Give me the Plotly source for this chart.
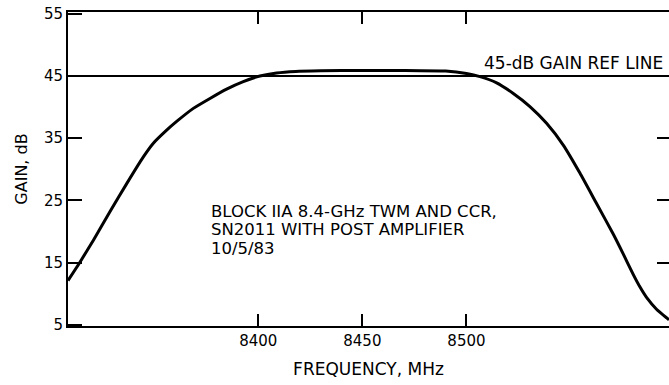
import plotly.graph_objects as go

# Data
freq_mhz = [8308.6, 8314.4, 8320.8, 8328.8, 8336.8, 8344.8, 8349.6, 8356.0, 8360.8,
            8368.8, 8376.8, 8384.8, 8392.8, 8400.8, 8408.8, 8418, 8430, 8450, 8470,
            8490, 8500, 8506.5, 8514.5, 8522.5, 8530.5, 8538.5, 8546.5, 8554.5,
            8562.5, 8570.5, 8575.3, 8580.1, 8583.3, 8586.5, 8591.3, 8596.2, 8597.3]
gain_db = [12.1, 15.1, 18.6, 23.2, 27.7, 32.0, 34.2, 36.3, 37.7,
           39.8, 41.4, 42.9, 44.1, 45.0, 45.5, 45.75, 45.85, 45.9, 45.9,
           45.8, 45.4, 44.9, 43.9, 42.2, 40.1, 37.4, 33.9, 29.4,
           24.5, 19.6, 16.4, 13.1, 11.1, 9.4, 7.5, 6.1, 5.8]
x_ticks = [8400, 8450, 8500]
y_ticks = [5, 15, 25, 35, 45, 55]
y_ticks_right = [15, 25, 35]
ref_gain = 45
ref_label = "45-dB GAIN REF LINE"
note_lines = ["BLOCK IIA 8.4-GHz TWM AND CCR,", "SN2011 WITH POST AMPLIFIER", "10/5/83"]

FONT = "DejaVu Sans, Verdana, sans-serif"

fig = go.Figure()
fig.add_trace(go.Scatter(x=freq_mhz, y=gain_db, mode="lines",
                         line=dict(color="black", width=3, shape="spline", smoothing=0.5),
                         hoverinfo="skip", showlegend=False))
fig.add_trace(go.Scatter(x=[], y=[], yaxis="y2", showlegend=False))

fig.add_shape(type="line", xref="paper", x0=0, x1=1, yref="y", y0=ref_gain, y1=ref_gain,
              line=dict(color="black", width=2))

fig.add_annotation(text=ref_label, xref="paper", x=(665 - 68) / 601, xanchor="right",
                   yref="y", y=ref_gain, yanchor="bottom", yshift=1, showarrow=False,
                   font=dict(size=17, color="black", family=FONT))

note_top_px = 211.0
note_step_px = 18.7
for i, line in enumerate(note_lines):
    cy = note_top_px + i * note_step_px
    fig.add_annotation(text=line, xref="paper", x=(209 - 68) / 601,
                       xanchor="left", align="left", yref="paper", y=(326 - cy) / 314,
                       yanchor="middle", showarrow=False,
                       font=dict(size=16.5, color="black", family=FONT))

fig.update_layout(
    width=669, height=385,
    margin=dict(l=68, r=0, t=12, b=59),
    plot_bgcolor="white", paper_bgcolor="white",
    font=dict(family=FONT, size=15, color="black"),
    xaxis=dict(range=[8308.6, 8597.3], tickvals=x_ticks, ticks="inside", ticklen=12,
               tickwidth=2, tickcolor="black", showline=True, linecolor="black",
               linewidth=2, mirror="ticks", showgrid=False, zeroline=False,
               title=dict(text="FREQUENCY, MHz", standoff=14, font=dict(size=17)),
               tickfont=dict(size=15)),
    yaxis=dict(range=[4.8, 55.3], tickvals=y_ticks, ticks="inside", ticklen=14,
               tickwidth=2, tickcolor="black", showline=True, linecolor="black",
               linewidth=2, showgrid=False, zeroline=False,
               title=dict(text="GAIN, dB", standoff=12, font=dict(size=16)),
               tickfont=dict(size=15)),
    yaxis2=dict(range=[4.8, 55.3], overlaying="y", side="right", tickvals=y_ticks_right,
                ticks="inside", ticklen=12, tickwidth=2, tickcolor="black",
                showline=False, showgrid=False, zeroline=False, showticklabels=False),
)

fig.write_html("out.html")
